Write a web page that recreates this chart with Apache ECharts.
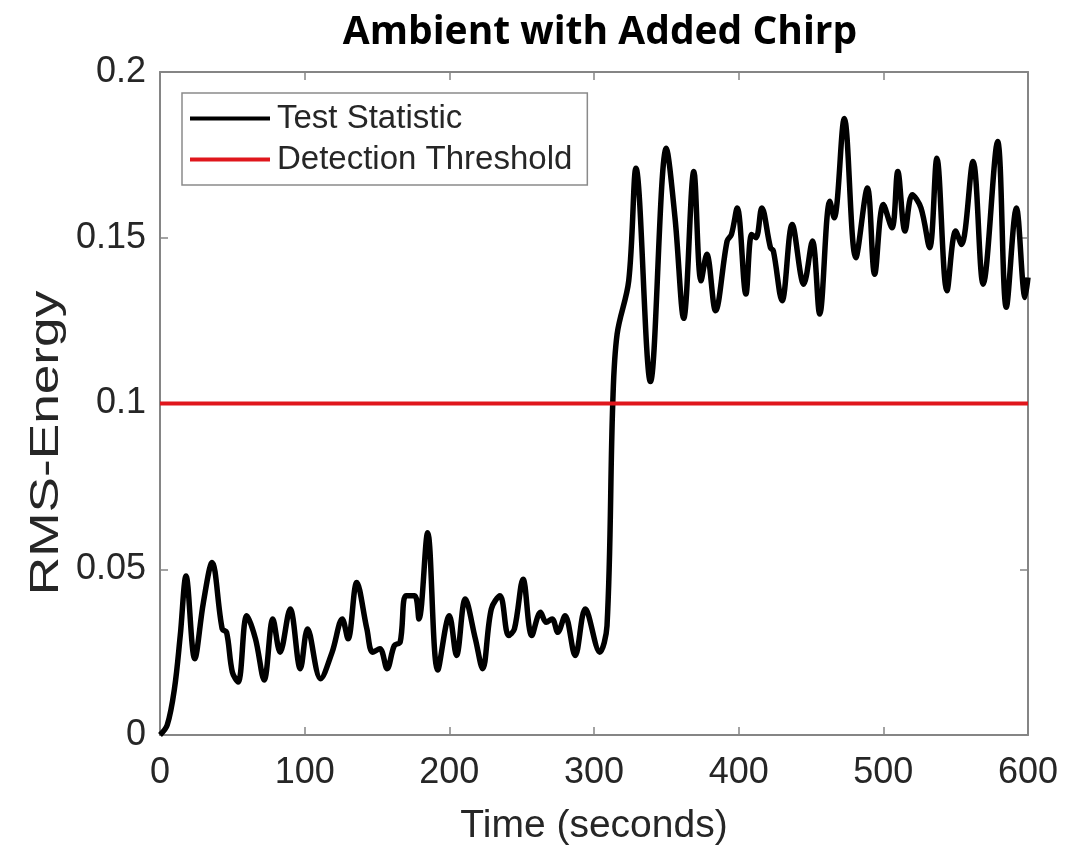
<!DOCTYPE html>
<html>
<head>
<meta charset="utf-8">
<script src="https://cdn.jsdelivr.net/npm/echarts@6/dist/echarts.min.js"></script>
<style>
  html, body { margin: 0; padding: 0; background: #fff; }
  #chart { width: 1081px; height: 848px; }
</style>
</head>
<body>
<div id="chart"></div>
<script>
// time (s) and RMS energy
const times = [0, 5, 10, 14, 18, 24, 30, 36, 43, 46, 50, 54, 60, 66, 72, 78, 83, 90, 97, 102,
  111, 119, 126, 130, 136, 143, 147, 152, 157, 162, 166, 170, 176, 179, 185, 192, 200, 205, 211, 218,
  223, 229, 235, 241, 245, 251, 257, 263, 267, 271, 275, 280, 287, 294, 304, 309, 313, 316, 324, 329,
  339, 350, 356, 362, 369, 374, 378, 384, 392, 395, 399, 405, 409, 412, 416, 422, 424, 430, 437, 445,
  451, 456, 463, 466, 473, 481, 489, 494, 500, 506, 510, 515, 520, 526, 532, 537, 544, 550, 554, 562,
  569, 579, 585, 592, 598, 600];
const rmsEnergy = [0, 0.003, 0.014, 0.03, 0.048, 0.023, 0.04, 0.052, 0.032, 0.031, 0.019, 0.016, 0.036, 0.029, 0.0166, 0.035, 0.025, 0.038, 0.02, 0.032,
  0.017, 0.025, 0.035, 0.029, 0.046, 0.032, 0.025, 0.026, 0.02, 0.027, 0.028, 0.042, 0.042, 0.035, 0.061, 0.0196, 0.036, 0.024, 0.041, 0.029,
  0.02, 0.038, 0.042, 0.03, 0.032, 0.047, 0.03, 0.037, 0.034, 0.035, 0.031, 0.036, 0.024, 0.038, 0.025, 0.033, 0.1005, 0.121, 0.137, 0.171,
  0.1066, 0.177, 0.156, 0.1257, 0.17, 0.137, 0.145, 0.128, 0.149, 0.151, 0.159, 0.133, 0.151, 0.15, 0.159, 0.147, 0.146, 0.131, 0.154, 0.136,
  0.149, 0.127, 0.161, 0.156, 0.186, 0.144, 0.165, 0.139, 0.16, 0.153, 0.17, 0.152, 0.163, 0.159, 0.147, 0.174, 0.134, 0.152, 0.148, 0.173,
  0.136, 0.179, 0.129, 0.159, 0.132, 0.138];
const thresholdTimes = [0, 600];
const thresholdValues = [0.1, 0.1];
const xTicks = [0, 100, 200, 300, 400, 500, 600];
const yTicks = [0, 0.05, 0.1, 0.15, 0.2];

const chart = echarts.init(document.getElementById("chart"));

const axisGrey = "#858585";
const labelColor = "#262626";
const font = "'Liberation Sans', Arial, sans-serif";

// MATLAB-style box: ticks mirrored on top and right
const mirrorX = {
  type: "value", position: "top", min: 0, max: 600, interval: 100,
  axisLine: { show: true, onZero: false, lineStyle: { color: axisGrey, width: 2 } },
  axisTick: { show: true, inside: true, length: 8, lineStyle: { color: axisGrey, width: 1.5 } },
  axisLabel: { show: false }, splitLine: { show: false },
};
const mirrorY = {
  type: "value", position: "right", min: 0, max: 0.2, interval: 0.05,
  axisLine: { show: true, onZero: false, lineStyle: { color: axisGrey, width: 2 } },
  axisTick: { show: true, inside: true, length: 8, lineStyle: { color: axisGrey, width: 1.5 } },
  axisLabel: { show: false }, splitLine: { show: false },
};

const option = {
  backgroundColor: "#ffffff",
  animation: false,
  title: {
    text: "Ambient with Added Chirp",
    left: 595,
    textAlign: "center",
    top: 8,
    textStyle: { fontFamily: "'Open Sans', sans-serif", fontWeight: "bold", fontSize: 39, color: "#000" },
  },
  grid: { left: 160, right: 53, top: 72, bottom: 113, outerBoundsMode: "none" },
  legend: {
    orient: "vertical",
    left: 182,
    top: 93,
    padding: [9, 15, 9, 8],
    itemGap: 8,
    itemWidth: 80,
    itemHeight: 4,
    icon: "rect",
    borderColor: "#8a8a8a",
    borderWidth: 1.5,
    borderRadius: 0,
    backgroundColor: "#fff",
    textStyle: { fontFamily: font, fontSize: 33, color: labelColor, padding: [0, 0, 0, 2] },
    data: ["Test Statistic", "Detection Threshold"],
  },
  graphic: [
    {
      type: "text",
      x: 47,
      y: 443,
      rotation: Math.PI / 2,
      scaleX: 1.33,
      style: {
        text: "RMS-Energy",
        align: "center",
        verticalAlign: "middle",
        fontFamily: font,
        fontSize: 40,
        fill: labelColor,
      },
    },
  ],
  xAxis: [
    {
      type: "value", min: 0, max: 600, interval: 100,
      name: "Time (seconds)", nameLocation: "middle", nameGap: 72,
      nameTextStyle: { fontFamily: font, fontSize: 39, color: labelColor },
      axisLine: { show: true, onZero: false, lineStyle: { color: axisGrey, width: 2 } },
      axisTick: { show: true, inside: true, length: 8, lineStyle: { color: axisGrey, width: 1.5 } },
      axisLabel: { fontFamily: font, fontSize: 36, color: labelColor, margin: 20,
        formatter: (v) => xTicks.includes(v) ? String(v) : "" },
      splitLine: { show: false },
    },
    mirrorX,
  ],
  yAxis: [
    {
      type: "value", min: 0, max: 0.2, interval: 0.05,
      axisLine: { show: true, onZero: false, lineStyle: { color: axisGrey, width: 2 } },
      axisTick: { show: true, inside: true, length: 8, lineStyle: { color: axisGrey, width: 1.5 } },
      axisLabel: { fontFamily: font, fontSize: 36, color: labelColor, margin: 14,
        formatter: (v) => {
          const t = yTicks.find(y => Math.abs(y - v) < 1e-9);
          return t === undefined ? "" : String(t);
        } },
      splitLine: { show: false },
    },
    mirrorY,
  ],
  series: [
    {
      name: "Test Statistic",
      type: "line",
      data: times.map((t, i) => [t, rmsEnergy[i]]),
      smooth: 0.35,
      symbol: "none",
      lineStyle: { color: "#000000", width: 5.5 },
      itemStyle: { color: "#000000" },
      z: 3,
    },
    {
      name: "Detection Threshold",
      type: "line",
      xAxisIndex: 1,
      yAxisIndex: 1,
      data: thresholdTimes.map((t, i) => [t, thresholdValues[i]]),
      symbol: "none",
      lineStyle: { color: "#e0161c", width: 4 },
      itemStyle: { color: "#e0161c" },
      z: 4,
    },
  ],
};

chart.setOption(option);
</script>
</body>
</html>
